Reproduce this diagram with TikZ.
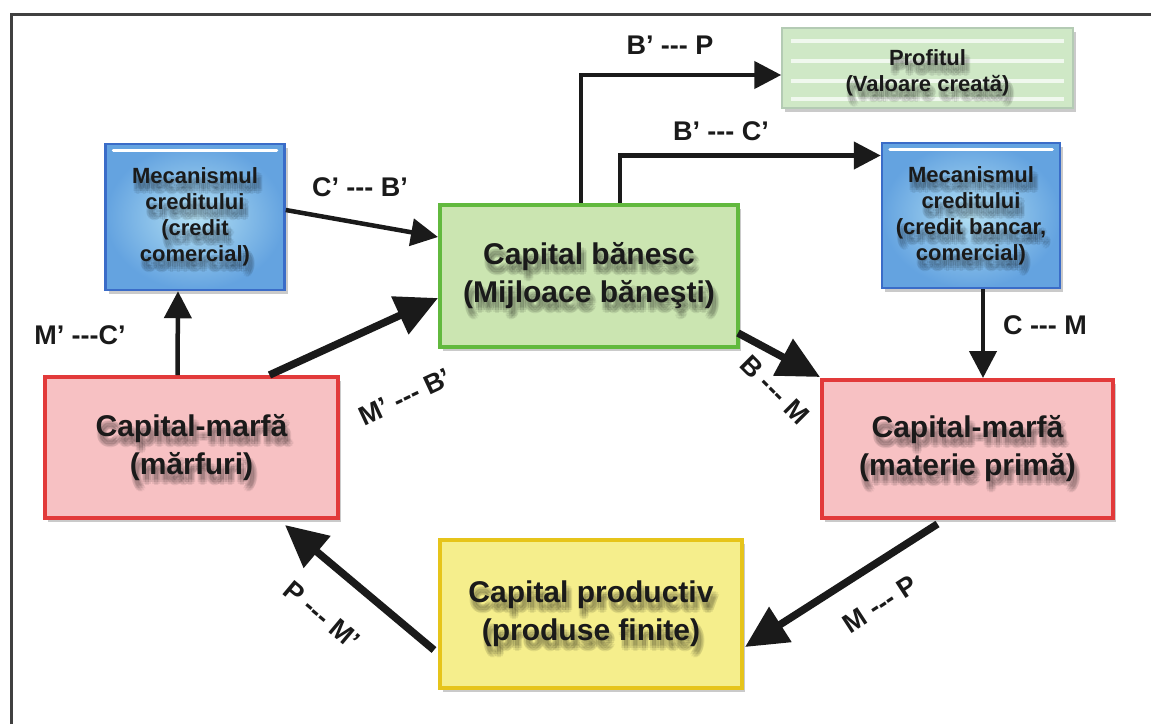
\documentclass[tikz,border=0pt]{standalone}
\usepackage{fontspec}
\newfontfamily\arl{Liberation Sans}
\usetikzlibrary{arrows.meta,calc,shadows}

\definecolor{inkc}{HTML}{1A1A1A}
\definecolor{framec}{HTML}{404040}
\definecolor{bluein}{HTML}{B2DFF3}
\definecolor{blueout}{HTML}{64A3E0}
\definecolor{blueedge}{HTML}{3A6CC8}
\definecolor{greenfill}{HTML}{CBE5B1}
\definecolor{greenedge}{HTML}{62B93E}
\definecolor{redfill}{HTML}{F7C1C3}
\definecolor{rededge}{HTML}{E23A3A}
\definecolor{yelfill}{HTML}{F5EE8C}
\definecolor{yeledge}{HTML}{E6C41A}
\definecolor{proffill}{HTML}{CFE8C6}
\definecolor{profedge}{HTML}{B4CBB4}

\tikzset{
  box/.style={rectangle, inner sep=0pt,
    drop shadow={shadow xshift=3pt, shadow yshift=-4pt, opacity=0.35, fill=black!60}},
  bigtxt/.style={font=\arl\bfseries\fontsize{30}{38}\selectfont, align=center, text=inkc, inner sep=0pt},
  smalltxt/.style={font=\arl\bfseries\fontsize{22}{26}\selectfont, align=center, text=inkc, inner sep=0pt},
  creditbox/.style={box, draw=blueedge, line width=2.5pt,
    inner color=bluein, outer color=blueout},
  moneybox/.style={box, draw=greenedge, fill=greenfill, line width=4pt},
  goodsbox/.style={box, draw=rededge, fill=redfill, line width=4pt},
  prodbox/.style={box, draw=yeledge, fill=yelfill, line width=4pt},
  profbox/.style={box, draw=profedge, fill=proffill, line width=1.5pt},
  flow/.style={draw=inkc, line width=4.5pt, -{Triangle[length=27pt,width=27pt]}},
  bigflow/.style={draw=inkc, line width=7.5pt, -{Triangle[length=42pt,width=40pt]}},
  lbl/.style={font=\arl\bfseries\fontsize{27}{30}\selectfont, text=inkc, inner sep=0pt},
}

% text with a soft dark shadow below it
\newcommand{\shadowedtext}[4]{%
  \foreach \sx/\sy [count=\k] in {3/8,0/8,6/8,3/5,3/11,1/6,5/6,1/10,5/10}
    \node[#3, text=black, opacity=0.07] (#1s\k) at ($(#2)+(\sx,\sy)$) {#4};
  \node[#3] (#1) at (#2) {#4};}

\begin{document}
\begin{tikzpicture}[x=1pt, y=-1pt]
\useasboundingbox (0,0) rectangle (1151,724);

% outer frame
\draw[framec, line width=3pt] (11,724) -- (11,14) -- (1151,14);

% boxes
\node[creditbox, minimum width=179pt, minimum height=146pt] (lb) at (195,217) {};
\node[creditbox, minimum width=178pt, minimum height=145pt] (rb) at (971,215.5) {};
\node[profbox, minimum width=291pt, minimum height=80pt] (pf) at (927.5,68) {};
\node[moneybox, minimum width=298pt, minimum height=142pt] (cb) at (589,276) {};
\node[goodsbox, minimum width=293pt, minimum height=141pt] (lr) at (191.5,447.5) {};
\node[goodsbox, minimum width=291pt, minimum height=138pt] (rr) at (967.5,449) {};
\node[prodbox, minimum width=302pt, minimum height=148pt] (yp) at (591,614) {};

% highlights on the credit boxes
\draw[white, line width=3pt, line cap=round]
  ($(lb.north west)+(9,8)$) -- ($(lb.north east)+(-9,8)$);
\draw[white, line width=3pt, line cap=round]
  ($(rb.north west)+(9,8)$) -- ($(rb.north east)+(-9,8)$);

% white streaks on the profit box
\foreach \dy in {14,34,54,72}
  \draw[white, opacity=0.7, line width=4pt]
    ($(pf.north west)+(10,\dy)$) -- ($(pf.north east)+(-10,\dy)$);

% box texts
\shadowedtext{lbt}{lb.center}{smalltxt}{Mecanismul\\creditului\\(credit\\comercial)}
\shadowedtext{rbt}{rb.center}{smalltxt}{Mecanismul\\creditului\\(credit bancar,\\comercial)}
\shadowedtext{pft}{$(pf.center)+(0,5)$}{smalltxt}{Profitul\\(Valoare creată)}
\shadowedtext{cbt}{cb.center}{bigtxt}{Capital bănesc\\(Mijloace băneşti)}
\shadowedtext{lrt}{lr.center}{bigtxt}{Capital-marfă\\(mărfuri)}
\shadowedtext{rrt}{rr.center}{bigtxt}{Capital-marfă\\(materie primă)}
\shadowedtext{ypt}{yp.center}{bigtxt}{Capital productiv\\(produse finite)}

% flows
\draw[flow] ($(lb.east)+(0,-7)$) -- ($(cb.west)+(0,-39)$);
\draw[flow] ($(lr.north)+(-14,0)$) -- ($(lb.south)+(-17,0)$);
\draw[bigflow] ($(lr.north)+(78,0)$) -- ($(cb.west)+(0,22)$);
\draw[flow] ($(cb.north)+(-8,0)$) |- ($(pf.west)+(0,7)$);
\draw[flow] ($(cb.north)+(31,0)$) |- ($(rb.west)+(0,-60)$);
\draw[bigflow] ($(cb.south east)+(-2,-16)$) -- ($(rr.north west)+(0,-1)$);
\draw[flow] ($(rb.south)+(12,0)$) -- ($(rr.north)+(15.5,0)$);
\draw[bigflow] ($(rr.south)+(-30,4)$) -- ($(yp.east)+(1,33)$);
\draw[bigflow] ($(yp.west)+(-4,36)$) -- ($(lr.south east)+(-55,5)$);

% flow labels
\node[lbl] (l1) at (360,187) {C’ --- B’};
\node[lbl] (l2) at (80,335) {M’ ---C’};
\node[lbl, rotate=25] (l3) at (405,397) {M’ --- B’};
\node[lbl] (l4) at (670,45) {B’ --- P};
\node[lbl] (l5) at (721,131) {B’ --- C’};
\node[lbl, rotate=-45] (l6) at (775,390) {B --- M};
\node[lbl] (l7) at (1045,325) {C --- M};
\node[lbl, rotate=33] (l8) at (880,604) {M --- P};
\node[lbl, rotate=-40] (l9) at (322,615) {P --- M’};
\end{tikzpicture}
\end{document}
